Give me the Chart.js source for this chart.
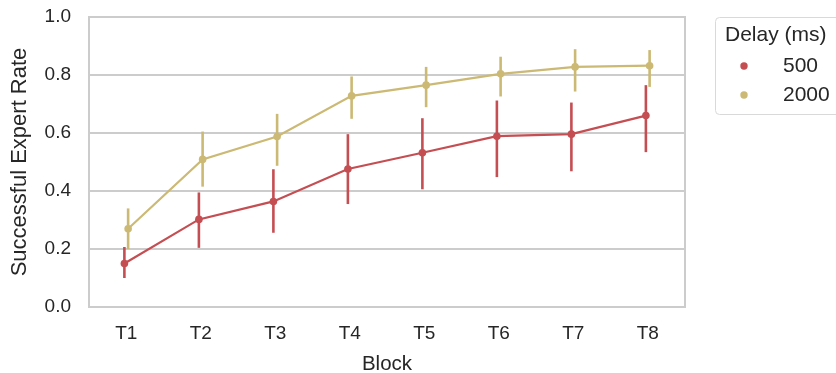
<!DOCTYPE html>
<html>
<head>
<meta charset="utf-8">
<script src="https://cdn.jsdelivr.net/npm/chart.js@4.4.0/dist/chart.umd.min.js"></script>
<style>
  html, body { margin: 0; padding: 0; background: #fff; }
  #wrap { width: 836px; height: 373px; position: relative; }
</style>
</head>
<body>
<div id="wrap"><canvas id="grafico"></canvas></div>
<script>
// dados
var blocos = ['T1', 'T2', 'T3', 'T4', 'T5', 'T6', 'T7', 'T8'];
var delays = ['500', '2000'];
var taxa500  = [0.150, 0.302, 0.364, 0.476, 0.532, 0.589, 0.596, 0.660];
var erroBaixo500 = [0.100, 0.204, 0.256, 0.355, 0.406, 0.448, 0.468, 0.534];
var erroAlto500  = [0.207, 0.395, 0.475, 0.596, 0.651, 0.712, 0.705, 0.765];
var taxa2000 = [0.270, 0.509, 0.588, 0.728, 0.765, 0.804, 0.828, 0.832];
var erroBaixo2000 = [0.200, 0.415, 0.487, 0.649, 0.689, 0.726, 0.743, 0.759];
var erroAlto2000  = [0.340, 0.605, 0.666, 0.795, 0.828, 0.863, 0.889, 0.886];
var yTicks = [0, 0.2, 0.4, 0.6, 0.8, 1.0];

var cor500 = '#c44e52';
var cor2000 = '#ccb974';
var fonte = "'Liberation Sans', Arial, sans-serif";
var texto = '#262626';
var cinza = '#cccccc';
var dodge = 0.025;

function pontos(vals, desloc){
    var out = [];
    for (var i in vals) {
        out.push({x: Number(i) + desloc, y: vals[i]});
    }
    return out;
}

// barras de erro
var errorBars = {
    id: 'errorBars',
    afterDatasetsDraw: function(chart){
        var ctx = chart.ctx;
        var y = chart.scales.y;
        chart.data.datasets.forEach(function(ds, d){
            var meta = chart.getDatasetMeta(d);
            ctx.save();
            ctx.strokeStyle = ds.borderColor;
            ctx.lineWidth = 2.6;
            meta.data.forEach(function(pt, i){
                ctx.beginPath();
                ctx.moveTo(pt.x, y.getPixelForValue(ds.erroBaixo[i]));
                ctx.lineTo(pt.x, y.getPixelForValue(ds.erroAlto[i]));
                ctx.stroke();
            });
            ctx.restore();
        });
    }
};

// moldura + legenda
var moldura = {
    id: 'moldura',
    beforeDatasetsDraw: function(chart){
        var a = chart.chartArea;
        var ctx = chart.ctx;
        ctx.save();
        ctx.strokeStyle = cinza;
        ctx.lineWidth = 2;
        ctx.strokeRect(a.left, a.top, a.right - a.left, a.bottom - a.top);
        ctx.restore();
    },
    afterDraw: function(chart){
        var ctx = chart.ctx;
        ctx.save();
        ctx.beginPath();
        ctx.roundRect(715.5, 17.5, 140, 97, 4);
        ctx.fillStyle = '#ffffff';
        ctx.fill();
        ctx.strokeStyle = '#d9d9d9';
        ctx.lineWidth = 1;
        ctx.stroke();
        ctx.fillStyle = texto;
        ctx.font = '21px ' + fonte;
        ctx.textBaseline = 'middle';
        ctx.textAlign = 'left';
        ctx.fillText('Delay (ms)', 725, 35);
        chart.data.datasets.forEach(function(ds, d){
            var yy = 66 + d * 29;
            ctx.beginPath();
            ctx.arc(744, yy, 3.7, 0, Math.PI * 2);
            ctx.fillStyle = ds.borderColor;
            ctx.fill();
            ctx.fillStyle = texto;
            ctx.fillText(ds.label, 783, yy);
        });
        ctx.restore();
    }
};

var ctx = document.getElementById('grafico');
var grafico = new Chart(ctx, {
    type: 'line',
    data: {
        datasets: [
            {
                label: delays[0],
                data: pontos(taxa500, -dodge),
                erroBaixo: erroBaixo500,
                erroAlto: erroAlto500,
                borderColor: cor500,
                backgroundColor: cor500,
                borderWidth: 2.2,
                pointRadius: 3.8,
                pointBorderWidth: 0,
                pointHoverRadius: 3.8
            },
            {
                label: delays[1],
                data: pontos(taxa2000, dodge),
                erroBaixo: erroBaixo2000,
                erroAlto: erroAlto2000,
                borderColor: cor2000,
                backgroundColor: cor2000,
                borderWidth: 2.2,
                pointRadius: 3.8,
                pointBorderWidth: 0,
                pointHoverRadius: 3.8
            }
        ]
    },
    options: {
        responsive: true,
        maintainAspectRatio: false,
        animation: false,
        layout: { padding: { left: 0, right: 151, top: 17, bottom: 0 } },
        plugins: {
            legend: { display: false },
            tooltip: { enabled: false }
        },
        scales: {
            x: {
                type: 'linear',
                min: -0.5,
                max: 7.5,
                afterBuildTicks: function(scale){
                    scale.ticks = blocos.map(function(b, i){ return {value: i}; });
                },
                afterFit: function(scale){
                    scale.height = 66;
                    scale.paddingLeft = 0;
                    scale.paddingRight = 0;
                },
                grid: { display: false, drawTicks: false },
                border: { display: false },
                ticks: {
                    padding: 15,
                    color: texto,
                    font: { family: fonte, size: 19 },
                    callback: function(v){ return blocos[v]; }
                },
                title: {
                    display: true,
                    text: 'Block',
                    color: texto,
                    font: { family: fonte, size: 20.5, lineHeight: 0.8 },
                    padding: { top: 0, bottom: 0 }
                }
            },
            y: {
                min: 0,
                max: 1,
                afterBuildTicks: function(scale){
                    scale.ticks = yTicks.map(function(v){ return {value: v}; });
                },
                afterFit: function(scale){
                    scale.width = 89;
                    scale.paddingTop = 0;
                    scale.paddingBottom = 0;
                },
                grid: { color: cinza, lineWidth: 2, drawTicks: false },
                border: { display: false },
                ticks: {
                    padding: 18,
                    color: texto,
                    font: { family: fonte, size: 19 },
                    callback: function(v){ return v.toFixed(1); }
                },
                title: {
                    display: true,
                    text: 'Successful Expert Rate',
                    color: texto,
                    font: { family: fonte, size: 22, lineHeight: 1 },
                    padding: { top: 9, bottom: 0 }
                }
            }
        }
    },
    plugins: [errorBars, moldura]
});
</script>
</body>
</html>
